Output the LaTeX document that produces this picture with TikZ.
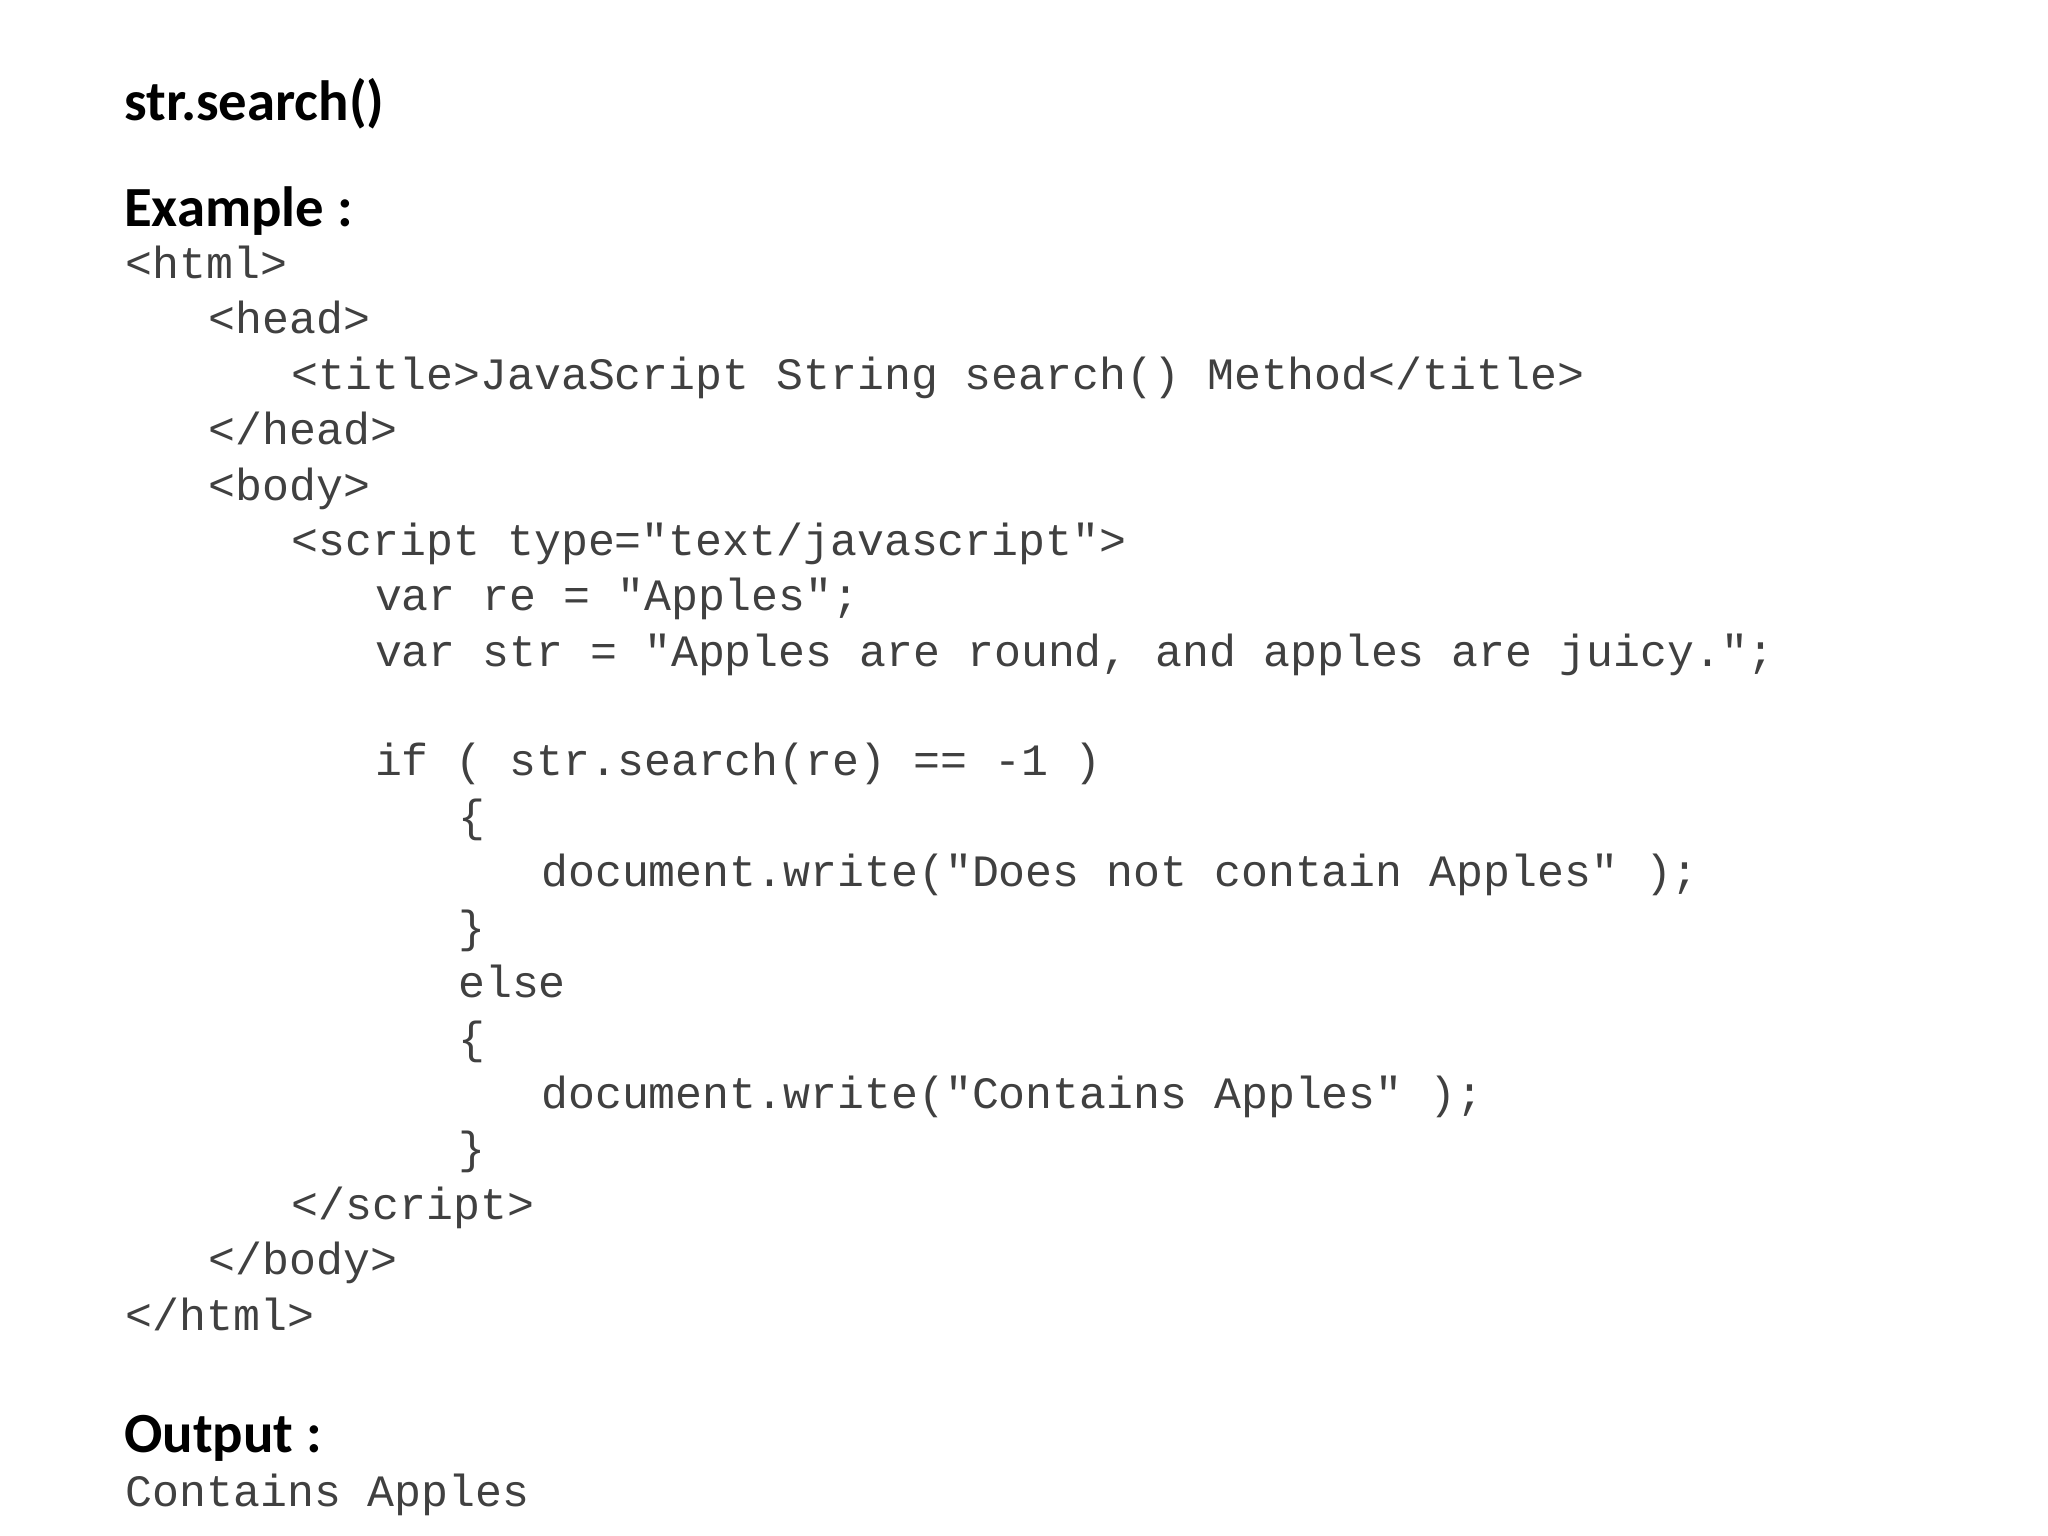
\documentclass[tikz,border=0pt]{standalone}
\usepackage{fontspec}
\setmainfont{Carlito}
\setmonofont{Liberation Mono}
\begin{document}
\begin{tikzpicture}[x=1pt,y=-1pt,
  hd/.style={anchor=base west,inner sep=0pt,font=\fontsize{43}{46}\selectfont\bfseries,text=black},
  cd/.style={anchor=base west,inner sep=0pt,font=\fontsize{34}{40}\selectfont\ttfamily,text=black!75}]
\useasboundingbox (0,0) rectangle (1552,1164);
\node[hd] (t1) at (94,91) {str.search()};
\node[hd] (t2) at (94,172) {Example :};
\node[cd] (c1) at (95,211) {<html>};
\node[cd] (c2) at (158,253) {<head>};
\node[cd] (c3) at (221,295) {<title>JavaScript String search() Method</title>};
\node[cd] (c4) at (158,337) {</head>};
\node[cd] (c5) at (158,379) {<body>};
\node[cd] (c6) at (221,421) {<script type="text/javascript">};
\node[cd] (c7) at (284,463) {var re = "Apples";};
\node[cd] (c8) at (284,505) {var str = "Apples are round, and apples are juicy.";};
\node[cd] (c9) at (284,588) {if ( str.search(re) == -1 )};
\node[cd] (c10) at (347,630) {\{};
\node[cd] (c11) at (410,672) {document.write("Does not contain Apples" );};
\node[cd] (c12) at (347,714) {\}};
\node[cd] (c13) at (347,756) {else};
\node[cd] (c14) at (347,798) {\{};
\node[cd] (c15) at (410,840) {document.write("Contains Apples" );};
\node[cd] (c16) at (347,882) {\}};
\node[cd] (c17) at (221,924) {</script>};
\node[cd] (c18) at (158,966) {</body>};
\node[cd] (c19) at (95,1008) {</html>};
\node[hd] (t3) at (94,1101) {Output :};
\node[cd] (o1) at (95,1142) {Contains Apples};
\end{tikzpicture}
\end{document}
